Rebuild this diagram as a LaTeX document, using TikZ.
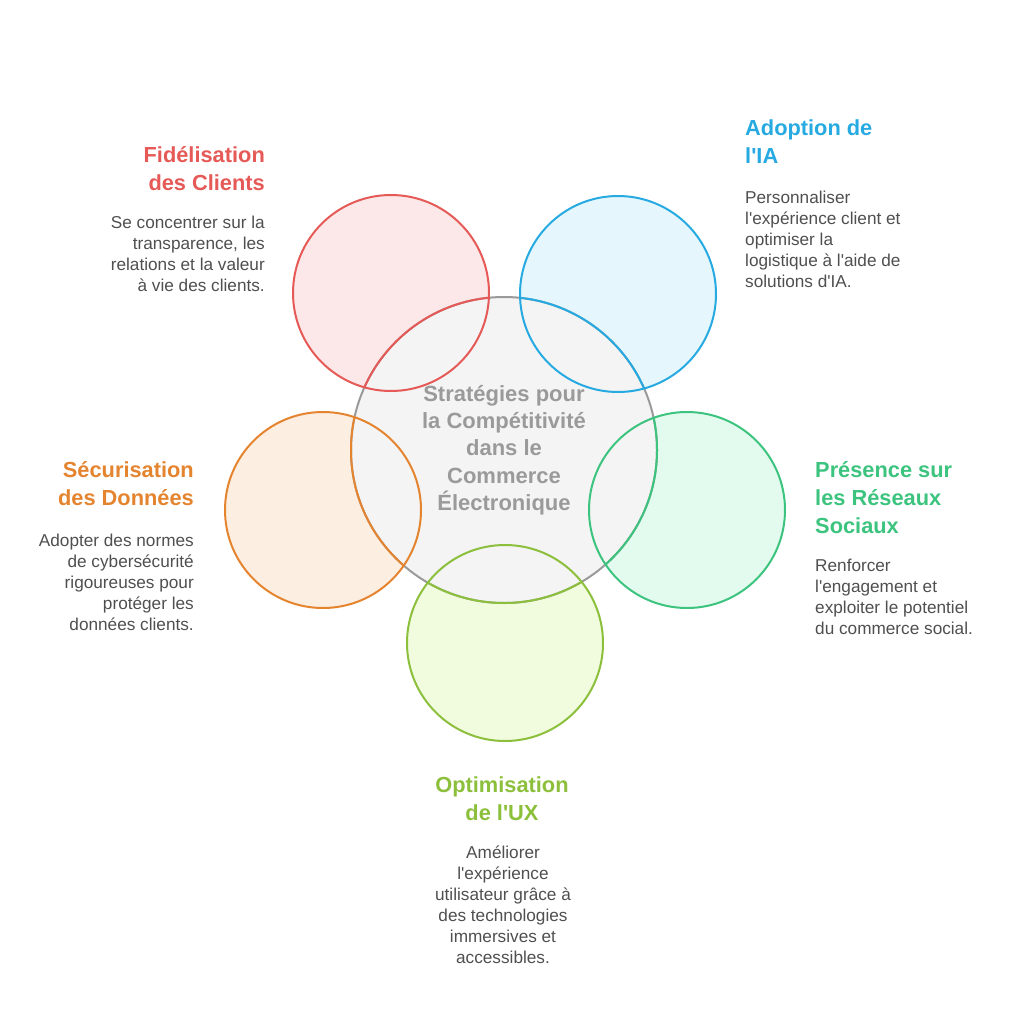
\documentclass[tikz,border=0pt]{standalone}
\usepackage{fontspec}
\setmainfont{Liberation Sans}

\definecolor{rouge}{HTML}{E55A57}
\definecolor{rougefond}{HTML}{FDE8E9}
\definecolor{bleu}{HTML}{27AAE1}
\definecolor{bleufond}{HTML}{E5F6FD}
\definecolor{orange}{HTML}{E5842F}
\definecolor{orangefond}{HTML}{FDEEE2}
\definecolor{vert}{HTML}{3CC47F}
\definecolor{vertfond}{HTML}{E3FAEE}
\definecolor{lime}{HTML}{8CBF3C}
\definecolor{limefond}{HTML}{F1FCDF}
\definecolor{grisfond}{HTML}{F4F4F4}
\definecolor{grisbord}{HTML}{9A9A9A}
\definecolor{gristexte}{HTML}{4F4F4F}

\newcommand{\apos}{\textquotesingle}

\tikzset{
  titre/.style={inner sep=0pt, font=\fontsize{21.8}{28}\selectfont\bfseries},
  texte/.style={inner sep=0pt, text=gristexte, font=\fontsize{17.2}{21}\selectfont},
  anneau/.style={line width=2pt},
}

\begin{document}
\begin{tikzpicture}[x=1pt,y=-1pt]
	\useasboundingbox (0,0) rectangle (1011,1024);
	
	% Centres des cercles
	\coordinate (milieu) at (504,450);
	\coordinate (fid) at (391,293);
	\coordinate (ia) at (618,294);
	\coordinate (secu) at (323,510);
	\coordinate (reseaux) at (687,510);
	\coordinate (ux) at (505,643);
	
	% Fonds des cercles extérieurs
	\foreach \c/\col in {fid/rouge, ia/bleu, secu/orange, reseaux/vert, ux/lime}
		\fill[\col fond] (\c) circle (98pt);
	
	% Cercle central
	\draw[anneau, grisbord, fill=grisfond] (milieu) circle (153pt);
	
	% Bords des cercles extérieurs (et des lentilles)
	\foreach \c/\col in {fid/rouge, ia/bleu, secu/orange, reseaux/vert, ux/lime}{
		\draw[anneau, \col] (\c) circle (98pt);
		\begin{scope}
			\clip (\c) circle (98pt);
			\draw[anneau, \col] (milieu) circle (153pt);
		\end{scope}
	}
	
	% Texte central
	\node[inner sep=0pt, text=grisbord, align=center, font=\fontsize{22}{27.3}\selectfont\bfseries] (hub) at (milieu)
		{Stratégies pour\\la Compétitivité\\dans le\\Commerce\\Électronique};
	
	% Fidélisation
	\node[titre, text=rouge, align=right, anchor=east] (t1) at (265,169) {Fidélisation\\des Clients};
	\node[texte, align=right, anchor=east] (b1) at (265,253.5)
		{Se concentrer sur la\\transparence, les\\relations et la valeur\\à vie des clients.};
	
	% Adoption de l'IA
	\node[titre, text=bleu, align=left, anchor=west] (t2) at (745,142) {Adoption de\\l\apos IA};
	\node[texte, align=left, anchor=west] (b2) at (745,239.5)
		{Personnaliser\\l\apos expérience client et\\optimiser la\\logistique à l\apos aide de\\solutions d\apos IA.};
	
	% Sécurisation
	\node[titre, text=orange, align=right, anchor=east] (t3) at (194,484) {Sécurisation\\des Données};
	\node[texte, align=right, anchor=east] (b3) at (194,582)
		{Adopter des normes\\de cybersécurité\\rigoureuses pour\\protéger les\\données clients.};
	
	% Réseaux sociaux
	\node[titre, text=vert, align=left, anchor=west] (t4) at (815,498) {Présence sur\\les Réseaux\\Sociaux};
	\node[texte, align=left, anchor=west] (b4) at (815,596.5)
		{Renforcer\\l\apos engagement et\\exploiter le potentiel\\du commerce social.};
	
	% Optimisation UX
	\node[titre, text=lime, align=center] (t5) at (502,799) {Optimisation\\de l\apos UX};
	\node[texte, align=center] (b5) at (503,904.5)
		{Améliorer\\l\apos expérience\\utilisateur grâce à\\des technologies\\immersives et\\accessibles.};
\end{tikzpicture}
\end{document}
